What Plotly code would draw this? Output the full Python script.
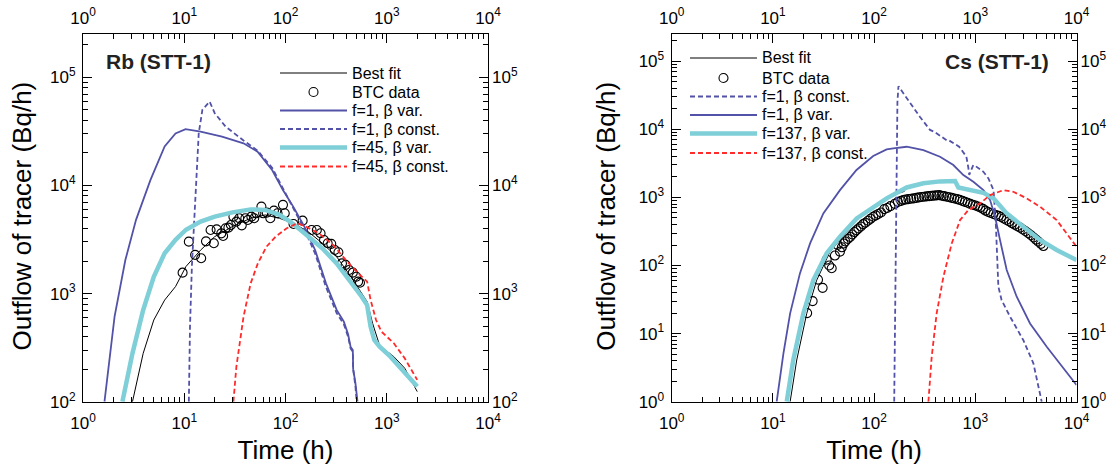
import plotly.graph_objects as go

# ---------------- Data: Rb (STT-1) ----------------
rb_best_t = [3.08, 3.93, 5.0, 6.4, 8.2, 10.4, 14.5, 20, 30, 45.3, 63, 87, 120, 167, 231, 320, 443, 640, 725, 851, 1175, 1505, 2000]
rb_best_v = [100, 280, 569, 870, 1160, 1780, 2520, 3360, 4170, 4970, 5330, 4970, 4460, 3740, 2920, 2190, 1430, 841, 530, 330, 261, 204, 124]

rb_btc_t = [9.63, 11.1, 12.8, 14.7, 16.4, 18.2, 19.6, 20.9, 23.2, 24.2, 25.6, 27.3, 28.9, 30.6, 32.7, 34.9, 37, 40.1,
            42.5, 46, 49.1, 51.6, 57.8, 60.2, 65.3, 70.8, 76.9, 83.4, 94.4, 98.3, 120, 147.6, 181, 204, 222, 240, 261,
            283, 307, 333, 361, 392, 426, 462, 501, 522, 544]
rb_btc_v = [1560, 3020, 2280, 2120, 3040, 3870, 2920, 3920, 3600, 3410, 4010, 4070, 4300, 5140, 4620, 4970, 4270, 4970,
            4790, 5140, 4970, 5520, 6370, 5520, 5600, 4970, 5850, 5520, 6610, 5520, 4400, 4720, 3870, 3870, 3610, 3130,
            2920, 2880, 2530, 2410, 1900, 1840, 1650, 1560, 1430, 1290, 1260]

rb_f1var_t = [1.63, 2.05, 2.62, 3.34, 4.63, 6.4, 8.2, 10.3, 14.5, 23.6, 38.5, 53, 74, 94, 120, 154, 196, 251, 320, 377, 415, 440, 462, 466, 490, 514]
rb_f1var_v = [100, 611, 2040, 4800, 11200, 22900, 30200, 33100, 31500, 28200, 24500, 20500, 13800, 9100, 6300, 4140, 2530, 1245, 706, 550, 420, 320, 300, 200, 150, 100]

rb_f1const_t = [11.1, 11.4, 11.9, 12.8, 13.9, 15.1, 17.8, 20, 25.6, 38.5, 53, 74, 94, 120, 154, 196, 251, 320, 377, 415, 440, 462, 466, 490, 505]
rb_f1const_v = [100, 500, 1800, 7400, 30300, 50000, 59600, 46500, 35000, 26000, 21000, 14500, 9400, 6000, 3900, 2350, 1150, 660, 520, 400, 310, 290, 200, 140, 100]

rb_f45var_t = [2.45, 3.08, 3.93, 5.0, 6.4, 8.2, 10.4, 14.5, 20, 30, 45.3, 63, 87, 111, 141, 181, 231, 320, 443, 566, 640, 693, 753, 851, 1087, 1388, 2000]
rb_f45var_v = [100, 280, 705, 1430, 2360, 3140, 3890, 4630, 5140, 5630, 6000, 5930, 5340, 4620, 3870, 3130, 2620, 1900, 1290, 935, 783, 493, 372, 323, 261, 203, 138]

rb_f45const_t = [30.6, 32.7, 38.5, 45.3, 53.3, 65, 80, 102, 131, 160, 214, 295, 408, 522, 640, 693, 784, 887, 1175, 1505, 2000]
rb_f45const_v = [100, 210, 611, 1245, 1900, 2720, 3360, 4000, 4460, 4150, 3600, 2820, 1970, 1540, 1290, 870, 569, 444, 347, 252, 159]

# ---------------- Data: Cs (STT-1) ----------------
cs_best_t = [14.8, 17.2, 21.6, 27.1, 36.7, 46, 67.3, 98, 133, 174, 200]
cs_best_v = [1, 4.1, 19.8, 61, 160, 237, 465, 690, 935, 1150, 1230]

cs_btc_t = [21.8, 24.7, 27.9, 31, 34, 36, 38.1, 41, 43.6, 46, 48, 50, 52, 55, 58, 61, 64, 67, 70, 74, 78, 82, 87, 92,
            98, 104, 110, 117, 126, 135, 145, 160, 172, 185, 195, 205, 218, 232, 246, 262, 278, 295, 312, 330, 350,
            370, 392, 415, 440, 465, 490, 520, 552, 585, 620, 660, 700, 745, 790, 840, 890, 945, 1000, 1060, 1120,
            1190, 1260, 1340, 1420, 1510, 1600, 1700, 1800, 1910, 2030, 2160, 2300, 2450, 2600, 2770, 2950, 3140,
            3340, 3550, 3770, 3980, 4200, 4450, 4710]
cs_btc_v = [20, 30, 62, 47, 122, 100, 91, 140, 200, 160, 185, 210, 225, 245, 262, 285, 310, 330, 350, 375, 405, 425,
            455, 485, 520, 545, 570, 600, 673, 700, 745, 805, 860, 890, 915, 930, 945, 958, 968, 985, 1000, 1015,
            1024, 1035, 1045, 1055, 1062, 1070, 1080, 1060, 1045, 1025, 1005, 985, 965, 945, 920, 890, 860, 835,
            805, 780, 760, 735, 712, 680, 640, 610, 590, 570, 552, 535, 515, 490, 468, 445, 420, 398, 378, 360,
            338, 318, 298, 278, 258, 240, 224, 208, 193]

cs_f1const_t = [158, 161, 165, 170, 174, 205, 244, 283, 357, 392, 521, 543, 692, 735, 816, 851, 871, 955, 1000, 1202, 1349, 1514, 1600, 1690, 1820, 2203, 2985, 3750, 4365, 4530]
cs_f1const_v = [1, 30, 2000, 25000, 43000, 30000, 21000, 15300, 9800, 9220, 6920, 6960, 5560, 4950, 3980, 2800, 2140, 2990, 2900, 2380, 1900, 1280, 370, 49, 31, 17.8, 8.0, 3.66, 1.32, 1]

cs_f1var_t = [10.9, 12.7, 14.8, 18.5, 23.3, 31.5, 46, 67, 98, 133, 155, 210, 307, 448, 607, 762, 957, 1202, 1400, 1568, 1756, 2043, 2565, 3475, 5080, 6880, 10000]
cs_f1var_v = [1, 5.1, 19.8, 76.6, 211, 583, 1280, 2530, 4050, 5070, 5250, 5550, 4960, 3960, 2990, 2130, 1700, 1280, 915, 521, 236, 86, 34.8, 14.1, 6.4, 3.65, 1.76]

cs_f137var_t = [13.7, 15.9, 20, 25.1, 34, 46, 67.3, 98, 133, 210, 307, 448, 631, 680, 887, 1202, 1510, 2043, 2985, 4363, 6370, 10000]
cs_f137var_v = [1, 4.1, 19.8, 61, 151, 265, 492, 730, 968, 1400, 1610, 1720, 1740, 1400, 1280, 1170, 968, 583, 371, 237, 169, 120]

cs_f137const_t = [344, 371, 415, 484, 585, 707, 854, 1114, 1400, 1893, 2378, 3220, 4363, 6370, 10000]
cs_f137const_v = [1, 4.6, 19.8, 68.5, 211, 465, 653, 817, 1080, 1280, 1210, 968, 730, 465, 189]

x_tick_vals = [1, 10, 100, 1000, 10000]
x_tick_text = ["10<sup>0</sup>", "10<sup>1</sup>", "10<sup>2</sup>", "10<sup>3</sup>", "10<sup>4</sup>"]
rb_y_tick_vals = [1e2, 1e3, 1e4, 1e5]
rb_y_tick_text = ["10<sup>2</sup>", "10<sup>3</sup>", "10<sup>4</sup>", "10<sup>5</sup>"]
cs_y_tick_vals = [1e0, 1e1, 1e2, 1e3, 1e4, 1e5]
cs_y_tick_text = ["10<sup>0</sup>", "10<sup>1</sup>", "10<sup>2</sup>", "10<sup>3</sup>", "10<sup>4</sup>", "10<sup>5</sup>"]

rb_legend_labels = ["Best fit", "BTC data", "f=1, β var.", "f=1, β const.", "f=45, β var.", "f=45, β const."]
cs_legend_labels = ["Best fit", "BTC data", "f=1, β const.", "f=1, β var.", "f=137, β var.", "f=137, β const."]

Y_TITLE = "Outflow of tracer (Bq/h)"
X_TITLE = "Time (h)"

# ---------------- Styles ----------------
PURPLE = "#5252a8"
CYAN = "#7ecfd7"
RED = "#ff2a2a"
DASH = "5px,3px"
FONT = "Liberation Sans, Arial, Helvetica, sans-serif"
W, H = 1116, 470

STYLE = {
    "Best fit": dict(color="black", width=1, dash="solid"),
    "f=1, β var.": dict(color=PURPLE, width=1.8, dash="solid"),
    "f=1, β const.": dict(color=PURPLE, width=1.8, dash=DASH),
    "f=45, β var.": dict(color=CYAN, width=4.5, dash="solid"),
    "f=45, β const.": dict(color=RED, width=1.8, dash=DASH),
    "f=137, β var.": dict(color=CYAN, width=4.5, dash="solid"),
    "f=137, β const.": dict(color=RED, width=1.8, dash=DASH),
}


def minor_vals(lo_exp, hi_exp):
    out = []
    for e in range(lo_exp, hi_exp + 1):
        for m in range(2, 10):
            out.append(m * 10 ** e)
    return out


fig = go.Figure()


def line(t, v, name, xa, ya):
    fig.add_trace(go.Scatter(x=t, y=v, mode="lines", name=name, xaxis=xa, yaxis=ya, showlegend=False,
                             line=STYLE[name], hoverinfo="skip"))


def circles(t, v, name, xa, ya):
    fig.add_trace(go.Scatter(x=t, y=v, mode="markers", name=name, xaxis=xa, yaxis=ya, showlegend=False,
                             marker=dict(symbol="circle-open", size=9, color="black", line=dict(width=1.1)),
                             hoverinfo="skip"))


# Left panel traces
line(rb_best_t, rb_best_v, "Best fit", "x", "y")
circles(rb_btc_t, rb_btc_v, "BTC data", "x", "y")
line(rb_f1var_t, rb_f1var_v, "f=1, β var.", "x", "y")
line(rb_f1const_t, rb_f1const_v, "f=1, β const.", "x", "y")
line(rb_f45var_t, rb_f45var_v, "f=45, β var.", "x", "y")
line(rb_f45const_t, rb_f45const_v, "f=45, β const.", "x", "y")

# Right panel traces
line(cs_best_t, cs_best_v, "Best fit", "x2", "y2")
circles(cs_btc_t, cs_btc_v, "BTC data", "x2", "y2")
line(cs_f1const_t, cs_f1const_v, "f=1, β const.", "x2", "y2")
line(cs_f1var_t, cs_f1var_v, "f=1, β var.", "x2", "y2")
line(cs_f137var_t, cs_f137var_v, "f=137, β var.", "x2", "y2")
line(cs_f137const_t, cs_f137const_v, "f=137, β const.", "x2", "y2")

# dummy traces registering the mirrored (top / right) label axes
fig.add_trace(go.Scatter(x=[None], y=[None], xaxis="x3", yaxis="y3", showlegend=False, hoverinfo="skip"))
fig.add_trace(go.Scatter(x=[None], y=[None], xaxis="x4", yaxis="y4", showlegend=False, hoverinfo="skip"))

L_DOM = [83 / W, 488 / W]
R_DOM = [671.7 / W, 1076.5 / W]
Y_DOM = [1 - 401.7 / H, 1 - 34 / H]
Y_RB = [2, 5.4]
Y_CS = [0, 5.4]

tickfont = dict(family=FONT, size=17, color="black")
titlefont = dict(family=FONT, size=26, color="black")


def xaxis(domain, anchor, side, overlay=None, title=None):
    d = dict(type="log", range=[0, 4], domain=domain, anchor=anchor, side=side,
             tickmode="array", tickvals=x_tick_vals, ticktext=x_tick_text,
             ticks="inside", ticklen=9, tickwidth=1, tickcolor="black",
             minor=dict(tickmode="array", tickvals=minor_vals(0, 3), ticks="inside", ticklen=5,
                        tickwidth=1, tickcolor="black", showgrid=False),
             showgrid=False, zeroline=False, tickfont=tickfont, automargin=False,
             ticklabelstandoff=6)
    if overlay:
        d.update(overlaying=overlay, showline=False)
    else:
        d.update(showline=True, linecolor="black", linewidth=1.2, mirror=True)
    if title:
        d.update(title=dict(text=title, font=titlefont, standoff=8))
    return d


def yaxis(rng, vals, text, minors, anchor, side, overlay=None):
    d = dict(type="log", range=rng, domain=Y_DOM, anchor=anchor, side=side,
             tickmode="array", tickvals=vals, ticktext=text,
             ticks="inside", ticklen=9, tickwidth=1, tickcolor="black",
             minor=dict(tickmode="array", tickvals=minors, ticks="inside", ticklen=5,
                        tickwidth=1, tickcolor="black", showgrid=False),
             showgrid=False, zeroline=False, tickfont=tickfont, automargin=False,
             ticklabelstandoff=3)
    if overlay:
        d.update(overlaying=overlay, showline=False)
    else:
        d.update(showline=True, linecolor="black", linewidth=1.2, mirror=True)
    return d


# ---------------- Legends (drawn in the panels' upper area) ----------------
shapes = []
annotations = []


def legend(labels, x_line0, x_line1, x_text, row_y):
    for lab, y in zip(labels, row_y):
        yp = 1 - y / H
        if lab == "BTC data":
            xc = (x_line0 + x_line1) / 2 / W
            shapes.append(dict(type="circle", xref="paper", yref="paper", xsizemode="pixel",
                               ysizemode="pixel", xanchor=xc, yanchor=yp, x0=-4.5, x1=4.5, y0=-4.5, y1=4.5,
                               line=dict(color="black", width=1.1)))
        else:
            st = STYLE[lab]
            shapes.append(dict(type="line", xref="paper", yref="paper", x0=x_line0 / W, x1=x_line1 / W,
                               y0=yp, y1=yp, line=dict(color=st["color"], width=st["width"], dash=st["dash"])))
        annotations.append(dict(text=lab, xref="paper", yref="paper", x=x_text / W, y=yp, xanchor="left",
                                yanchor="middle", showarrow=False, font=dict(family=FONT, size=16, color="black")))


legend(rb_legend_labels, 280, 347, 350, [73, 92, 110.5, 129, 147.5, 166.5])
legend(cs_legend_labels, 690, 757, 760, [58, 78, 96.5, 115, 133.5, 153])

annotations.append(dict(text="<b>Rb (STT-1)</b>", xref="paper", yref="paper", x=104 / W, y=1 - 62 / H,
                        xanchor="left", yanchor="middle", showarrow=False,
                        font=dict(family=FONT, size=21, color="#222")))
annotations.append(dict(text="<b>Cs (STT-1)</b>", xref="paper", yref="paper", x=1051 / W, y=1 - 62 / H,
                        xanchor="right", yanchor="middle", showarrow=False,
                        font=dict(family=FONT, size=21, color="#222")))

# y-axis titles
for xc in (21.5, 605.7):
    annotations.append(dict(text=Y_TITLE, xref="paper", yref="paper", x=xc / W, y=1 - 216 / H,
                            xanchor="center", yanchor="middle", textangle=-90, showarrow=False,
                            font=titlefont))

fig.update_layout(
    width=W, height=H, autosize=False,
    margin=dict(l=0, r=0, t=0, b=0),
    paper_bgcolor="white", plot_bgcolor="white",
    font=dict(family=FONT, color="black"),
    showlegend=False,
    xaxis=xaxis(L_DOM, "y", "bottom", title=X_TITLE),
    yaxis=yaxis(Y_RB, rb_y_tick_vals, rb_y_tick_text, minor_vals(2, 5), "x", "left"),
    xaxis2=xaxis(R_DOM, "y2", "bottom", title=X_TITLE),
    yaxis2=yaxis(Y_CS, cs_y_tick_vals, cs_y_tick_text, minor_vals(0, 5), "x2", "left"),
    xaxis3=xaxis(L_DOM, "y", "top", overlay="x"),
    yaxis3=yaxis(Y_RB, rb_y_tick_vals, rb_y_tick_text, minor_vals(2, 5), "x", "right", overlay="y"),
    xaxis4=xaxis(R_DOM, "y2", "top", overlay="x2"),
    yaxis4=yaxis(Y_CS, cs_y_tick_vals, cs_y_tick_text, minor_vals(0, 5), "x2", "right", overlay="y2"),
    shapes=shapes,
    annotations=annotations,
)

fig.write_html("out.html")
